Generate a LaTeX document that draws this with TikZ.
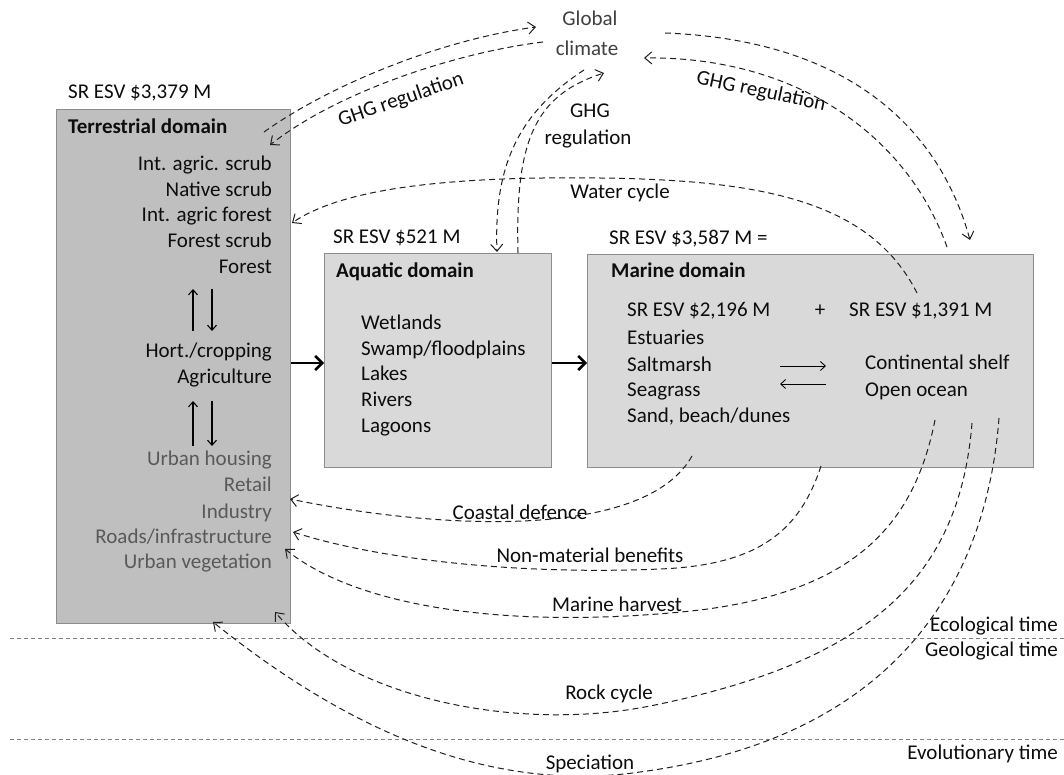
\documentclass[tikz,border=0pt]{standalone}
\usepackage{fontspec}
\setmainfont{Carlito}
\usetikzlibrary{arrows.meta}
\definecolor{terrfill}{HTML}{BFBFBF}
\definecolor{boxfill}{HTML}{D9D9D9}
\definecolor{boxline}{HTML}{8C8C8C}
\definecolor{txtc}{HTML}{0D0D0D}
\definecolor{grayt}{HTML}{595959}
\definecolor{linec}{HTML}{1F1F1F}
\definecolor{timec}{HTML}{808080}
\definecolor{gctext}{HTML}{404040}
\begin{document}
\begin{tikzpicture}[x=1pt,y=-1pt,
  txt/.style={font=\fontsize{21}{25.7}\selectfont, text=txtc, inner sep=0pt},
  btxt/.style={font=\fontsize{21}{25.7}\selectfont\bfseries, text=txtc, inner sep=0pt},
  gtxt/.style={txt, text=grayt},
  domainbox/.style={draw=boxline, line width=1.1pt, inner sep=0pt, anchor=north west},
  thickarr/.style={draw=black, line width=2.6pt, -{Straight Barb[length=7pt,width=14pt]}},
  thinarr/.style={draw=black, line width=1.1pt, -{Straight Barb[length=5pt,width=9pt]}},
  dasharr/.style={draw=linec, line width=1pt, dash pattern=on 6pt off 4pt, -{Straight Barb[length=7pt,width=12pt]}},
  timeline/.style={draw=timec, line width=0.8pt, dash pattern=on 4pt off 3pt}]
\useasboundingbox (0,0) rectangle (1064,775);
\fill[white] (0,0) rectangle (1064,775);

% time lines
\coordinate (eL) at (10,638); \coordinate (eR) at (1064,638);
\coordinate (vL) at (10,739); \coordinate (vR) at (1064,739);
\draw[timeline] (eL) -- (eR);
\draw[timeline] (vL) -- (vR);
\node[txt, anchor=base east] (ecol) at (1058,631) {Ecological time};
\node[txt, anchor=base east] (geol) at (1058,656) {Geological time};
\node[txt, anchor=base east] (evol) at (1058,759) {Evolutionary time};

% boxes
\node[domainbox, fill=terrfill, minimum width=234pt, minimum height=514pt] (terr) at (56,109) {};
\node[domainbox, fill=boxfill, minimum width=227pt, minimum height=214pt] (aq) at (324,253) {};
\node[domainbox, fill=boxfill, minimum width=446pt, minimum height=213pt] (mar) at (587,254) {};

% terrestrial texts
\node[txt, anchor=base west] (tesv) at (68,99) {SR ESV \$3,379 M};
\node[btxt, anchor=base west] (tdom) at (68,134) {Terrestrial domain};
\node[txt, anchor=base east] (t1) at (272,171) {Int. agric. scrub};
\node[txt, anchor=base east] (t2) at (272,197) {Native scrub};
\node[txt, anchor=base east] (t3) at (272,222) {Int. agric forest};
\node[txt, anchor=base east] (t4) at (272,248) {Forest scrub};
\node[txt, anchor=base east] (t5) at (272,273) {Forest};
\node[txt, anchor=base east] (t6) at (272,357) {Hort./cropping};
\node[txt, anchor=base east] (t7) at (272,383) {Agriculture};
\node[gtxt, anchor=base east] (t8) at (272,465) {Urban housing};
\node[gtxt, anchor=base east] (t9) at (272,491) {Retail};
\node[gtxt, anchor=base east] (t10) at (272,518) {Industry};
\node[gtxt, anchor=base east] (t11) at (272,543) {Roads/infrastructure};
\node[gtxt, anchor=base east] (t12) at (272,568) {Urban vegetation};

% up/down arrows in terrestrial box
\coordinate (u1a) at (193,331); \coordinate (u1b) at (193,289);
\coordinate (d1a) at (212,289); \coordinate (d1b) at (212,331);
\coordinate (u2a) at (193,446); \coordinate (u2b) at (193,401);
\coordinate (d2a) at (212,401); \coordinate (d2b) at (212,446);
\draw[thinarr] (u1a) -- (u1b);
\draw[thinarr] (d1a) -- (d1b);
\draw[thinarr] (u2a) -- (u2b);
\draw[thinarr] (d2a) -- (d2b);

% aquatic texts
\node[txt, anchor=base west] (aesv) at (333,244) {SR ESV \$521 M};
\node[btxt, anchor=base west] (adom) at (336,278) {Aquatic domain};
\node[txt, anchor=base west] (a1) at (361,329) {Wetlands};
\node[txt, anchor=base west] (a2) at (361,355) {Swamp/floodplains};
\node[txt, anchor=base west] (a3) at (361,380) {Lakes};
\node[txt, anchor=base west] (a4) at (361,406) {Rivers};
\node[txt, anchor=base west] (a5) at (361,432) {Lagoons};

% marine texts
\node[txt, anchor=base west] (mesv) at (609,245) {SR ESV \$3,587 M =};
\node[btxt, anchor=base west] (mdom) at (611,278) {Marine domain};
\node[txt, anchor=base west] (mesv1) at (627,316) {SR ESV \$2,196 M};
\node[txt, anchor=base] (plus) at (820,316) {+};
\node[txt, anchor=base west] (mesv2) at (849,316) {SR ESV \$1,391 M};
\node[txt, anchor=base west] (m1) at (627,344) {Estuaries};
\node[txt, anchor=base west] (m2) at (627,371) {Saltmarsh};
\node[txt, anchor=base west] (m3) at (627,396) {Seagrass};
\node[txt, anchor=base west] (m4) at (627,422) {Sand, beach/dunes};
\node[txt, anchor=base west] (m5) at (865,369) {Continental shelf};
\node[txt, anchor=base west] (m6) at (865,396) {Open ocean};
\coordinate (ra) at (780,366); \coordinate (rb) at (826,366);
\coordinate (la) at (826,384); \coordinate (lb) at (780,384);
\draw[thinarr, line width=0.9pt] (ra) -- (rb);
\draw[thinarr, line width=0.9pt] (la) -- (lb);

% thick arrows between domains
\coordinate (ya) at (0,363);
\draw[thickarr] (terr.east |- ya) -- (aq.west |- ya);
\draw[thickarr] (aq.east |- ya) -- (mar.west |- ya);

% global climate
\node[txt, text=gctext, anchor=base] (gc1) at (590,26) {Global};
\node[txt, text=gctext, anchor=base] (gc2) at (587,56) {climate};

% GHG: terrestrial <-> climate
\coordinate (gA) at (264,132); \coordinate (gB) at (536,27);
\coordinate (gC) at (543,42); \coordinate (gD) at (270,145);
\draw[dasharr] (gA) .. controls (330,85) and (440,40) .. (gB);
\draw[dasharr] (gC) .. controls (460,52) and (340,90) .. (gD);
\node[txt, rotate=19] (ghg1) at (401,100) {GHG regulation};

% GHG: aquatic <-> climate
\coordinate (hA) at (584,70); \coordinate (hB) at (497,252);
\coordinate (hC) at (518,253); \coordinate (hD) at (604,73);
\draw[dasharr] (hA) .. controls (515,115) and (494,170) .. (hB);
\draw[dasharr] (hC) .. controls (515,140) and (535,95) .. (hD);
\node[txt, anchor=base] (ghg2a) at (590,118) {GHG};
\node[txt, anchor=base] (ghg2b) at (588,145) {regulation};

% GHG: climate <-> marine
\coordinate (kA) at (665,33); \coordinate (kB) at (970,240);
\coordinate (kC) at (947,247); \coordinate (kD) at (644,58);
\draw[dasharr] (kA) .. controls (850,40) and (940,130) .. (kB);
\draw[dasharr] (kC) .. controls (905,130) and (790,56) .. (kD);
\node[txt, rotate=-12] (ghg3) at (761,92) {GHG regulation};

% water cycle
\coordinate (wA) at (917,293); \coordinate (wM) at (600,178); \coordinate (wB) at (292,223);
\draw[dasharr] (wA) .. controls (870,200) and (760,180) .. (wM) .. controls (440,176) and (340,190) .. (wB);
\node[txt, anchor=base] (wcl) at (620,199) {Water cycle};

% coastal defence
\coordinate (cA) at (692,456); \coordinate (cB) at (290,499);
\draw[dasharr] (cA) .. controls (645,540) and (440,530) .. (cB);
\node[txt, anchor=base] (cdl) at (520,519) {Coastal defence};

% non-material benefits
\coordinate (nA) at (821,466); \coordinate (nM) at (660,569); \coordinate (nB) at (293,532);
\draw[dasharr] (nA) .. controls (800,530) and (760,565) .. (nM) .. controls (520,575) and (380,560) .. (nB);
\node[txt, anchor=base] (nml) at (590,562) {Non-material benefits};

% marine harvest
\coordinate (pA) at (935,420); \coordinate (pM) at (700,610); \coordinate (pB) at (285,549);
\draw[dasharr] (pA) .. controls (915,520) and (860,590) .. (pM) .. controls (520,630) and (360,610) .. (pB);
\node[txt, anchor=base] (mhl) at (617,611) {Marine harvest};

% rock cycle
\coordinate (rA) at (972,423); \coordinate (rM) at (650,706); \coordinate (rB) at (275,612);
\draw[dasharr] (rA) .. controls (960,570) and (880,660) .. (rM) .. controls (520,732) and (350,700) .. (rB);
\node[txt, anchor=base] (rcl) at (609,699) {Rock cycle};

% speciation
\coordinate (sA) at (999,418); \coordinate (sM) at (640,772); \coordinate (sB) at (213,622);
\draw[dasharr] (sA) .. controls (985,600) and (880,740) .. (sM) .. controls (500,792) and (360,740) .. (sB);
\node[txt, anchor=base] (spl) at (590,769) {Speciation};
\end{tikzpicture}
\end{document}
